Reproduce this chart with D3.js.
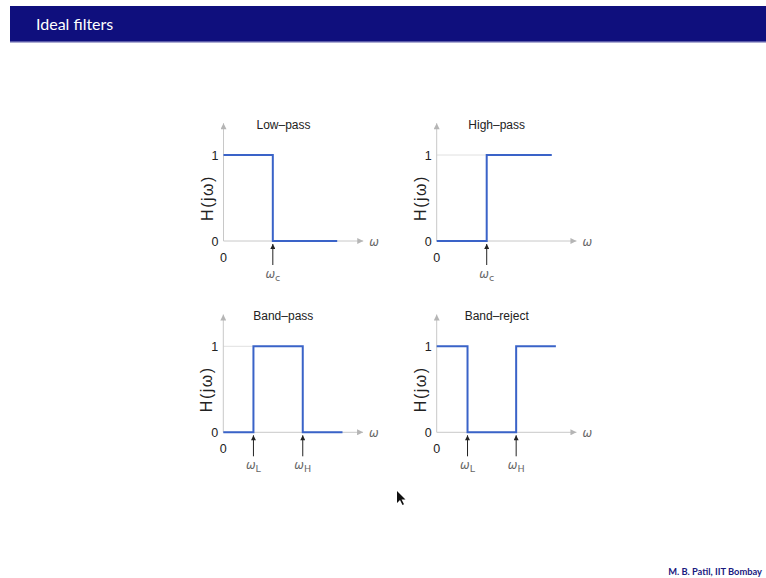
<!DOCTYPE html>
<html>
<head>
<meta charset="utf-8">
<script src="https://cdn.jsdelivr.net/npm/d3@7"></script>
<style>
  body { margin: 0; background: #fff; }
  svg { display: block; }
</style>
</head>
<body>
<svg id="slide" width="766" height="578"></svg>
<script>
// panel titles and step responses (w normalised to the axis length, H in 0..1)
const titles = ["Low-pass", "High-pass", "Band-pass", "Band-reject"];
const lowPassW = [0, 0.36, 0.36, 0.83];
const lowPassH = [1, 1, 0, 0];
const highPassW = [0, 0.365, 0.365, 0.84];
const highPassH = [0, 0, 1, 1];
const bandPassW = [0, 0.22, 0.22, 0.58, 0.58, 0.87];
const bandPassH = [0, 0, 1, 1, 0, 0];
const bandRejectW = [0, 0.225, 0.225, 0.58, 0.58, 0.87];
const bandRejectH = [1, 1, 0, 0, 1, 1];
// cutoff markers
const markerW = [[0.36], [0.365], [0.22, 0.58], [0.225, 0.58]];
const markerSub = [["c"], ["c"], ["L", "H"], ["L", "H"]];
const yTicks = [0, 1];

const svg = d3.select("#slide");

// header band
svg.append("rect").attr("x", 10).attr("y", 6).attr("width", 756).attr("height", 36).attr("fill", "#0f0f7d");
svg.append("rect").attr("x", 10).attr("y", 41).attr("width", 756).attr("height", 1.5).attr("fill", "#5a5aa8");
svg.append("text")
  .attr("x", 36).attr("y", 30)
  .attr("fill", "#fff")
  .style("font-family", "Lato, 'Open Sans', sans-serif")
  .style("font-size", "16px")
  .text("Ideal filters");

// footer
svg.append("text")
  .attr("x", 762).attr("y", 575)
  .attr("text-anchor", "end")
  .attr("fill", "#1a1a80")
  .style("font-family", "Lato, sans-serif")
  .style("font-size", "9.3px")
  .style("font-weight", "bold")
  .text("M. B. Patil, IIT Bombay");

const defs = svg.append("defs");
defs.append("marker")
  .attr("id", "grayArrow")
  .attr("viewBox", "0 0 10 10")
  .attr("refX", 10).attr("refY", 5)
  .attr("markerWidth", 10).attr("markerHeight", 6)
  .attr("markerUnits", "userSpaceOnUse")
  .attr("orient", "auto")
  .append("path").attr("d", "M0,0L10,5L0,10Z").attr("fill", "#b5b5b5");
defs.append("marker")
  .attr("id", "blackArrow")
  .attr("viewBox", "0 0 10 10")
  .attr("refX", 10).attr("refY", 5)
  .attr("markerWidth", 7).attr("markerHeight", 5)
  .attr("markerUnits", "userSpaceOnUse")
  .attr("orient", "auto")
  .append("path").attr("d", "M0,0L10,5L0,10Z").attr("fill", "#222");

const origins = [[223.5, 241], [436.7, 241], [223.3, 432.3], [436.7, 432.3]];
const wSeries = [lowPassW, highPassW, bandPassW, bandRejectW];
const hSeries = [lowPassH, highPassH, bandPassH, bandRejectH];

const x = d3.scaleLinear().domain([0, 1]).range([0, 137]);
const y = d3.scaleLinear().domain([0, 1]).range([0, -86]);

const line = d3.line().x(d => x(d.w)).y(d => y(d.h));

titles.forEach((title, i) => {
  const g = svg.append("g")
    .attr("transform", `translate(${origins[i][0]}, ${origins[i][1]})`);
  const pts = wSeries[i].map((w, k) => ({ w, h: hSeries[i][k] }));

  // faint guide at level 1, up to the first point where the response reaches 1
  const firstHigh = pts.find(d => d.h === 1);
  if (firstHigh && firstHigh.w > 0) {
    g.append("line")
      .attr("x1", x(0)).attr("x2", x(firstHigh.w))
      .attr("y1", y(1)).attr("y2", y(1))
      .attr("stroke", "#e0e0e0").attr("stroke-width", 1);
  }

  // axes
  g.append("line")
    .attr("x1", x(0)).attr("y1", y(0))
    .attr("x2", x(1.02)).attr("y2", y(0))
    .attr("stroke", "#c8c8c8").attr("stroke-width", 1)
    .attr("marker-end", "url(#grayArrow)");
  g.append("line")
    .attr("x1", x(0)).attr("y1", y(0))
    .attr("x2", x(0)).attr("y2", y(1.37))
    .attr("stroke", "#c8c8c8").attr("stroke-width", 1)
    .attr("marker-end", "url(#grayArrow)");

  // tick labels
  g.selectAll(".ytick")
    .data(yTicks)
    .enter()
    .append("text")
    .attr("x", -5).attr("y", d => y(d) + 4.5)
    .attr("text-anchor", "end")
    .attr("fill", "#222")
    .style("font-family", "'Liberation Sans', Arial, sans-serif")
    .style("font-size", "12.5px")
    .text(d => d);
  g.append("text")
    .attr("x", 0).attr("y", 20.5)
    .attr("text-anchor", "middle")
    .attr("fill", "#222")
    .style("font-family", "'Liberation Sans', Arial, sans-serif")
    .style("font-size", "12.5px")
    .text("0");

  // axis labels
  g.append("text")
    .attr("transform", `translate(-11, ${y(0.5)}) rotate(-90)`)
    .attr("text-anchor", "middle")
    .attr("fill", "#222")
    .style("font-family", "'Liberation Sans', Arial, sans-serif")
    .style("font-size", "16px")
    .style("letter-spacing", "1.5px")
    .text("H(jω)");
  g.append("text")
    .attr("x", x(1.02) + 6).attr("y", 5)
    .attr("fill", "#666")
    .style("font-family", "'DejaVu Sans', sans-serif")
    .style("font-style", "italic")
    .style("font-size", "11.5px")
    .text("ω");

  g.append("text")
    .attr("x", 60).attr("y", y(1.37) + 6)
    .attr("text-anchor", "middle")
    .attr("fill", "#222")
    .style("font-family", "'Liberation Sans', Arial, sans-serif")
    .style("font-size", "12px")
    .text(title.replace("-", "\u2013"));

  // response
  g.append("path")
    .datum(pts)
    .attr("d", line)
    .attr("fill", "none")
    .attr("stroke", "#3a63c8")
    .attr("stroke-width", 2);

  // cutoff markers
  markerW[i].forEach((w, k) => {
    g.append("line")
      .attr("x1", x(w)).attr("x2", x(w))
      .attr("y1", 24).attr("y2", 3)
      .attr("stroke", "#222").attr("stroke-width", 1)
      .attr("marker-end", "url(#blackArrow)");
    const t = g.append("text")
      .attr("x", x(w)).attr("y", 37)
      .attr("text-anchor", "middle")
      .attr("fill", "#666")
      .style("font-family", "'DejaVu Sans', sans-serif")
      .style("font-size", "11.5px");
    t.append("tspan").style("font-style", "italic").text("ω");
    t.append("tspan").attr("dy", 3).style("font-size", "9.5px").text(markerSub[i][k]);
  });
});

// mouse pointer seen in the slide capture
svg.append("path")
  .attr("d", "M397,491 L397,503 L400,500 L402.5,505 L404,504.3 L401.6,499.5 L405.5,499.5 Z")
  .attr("fill", "#111");
</script>
</body>
</html>
